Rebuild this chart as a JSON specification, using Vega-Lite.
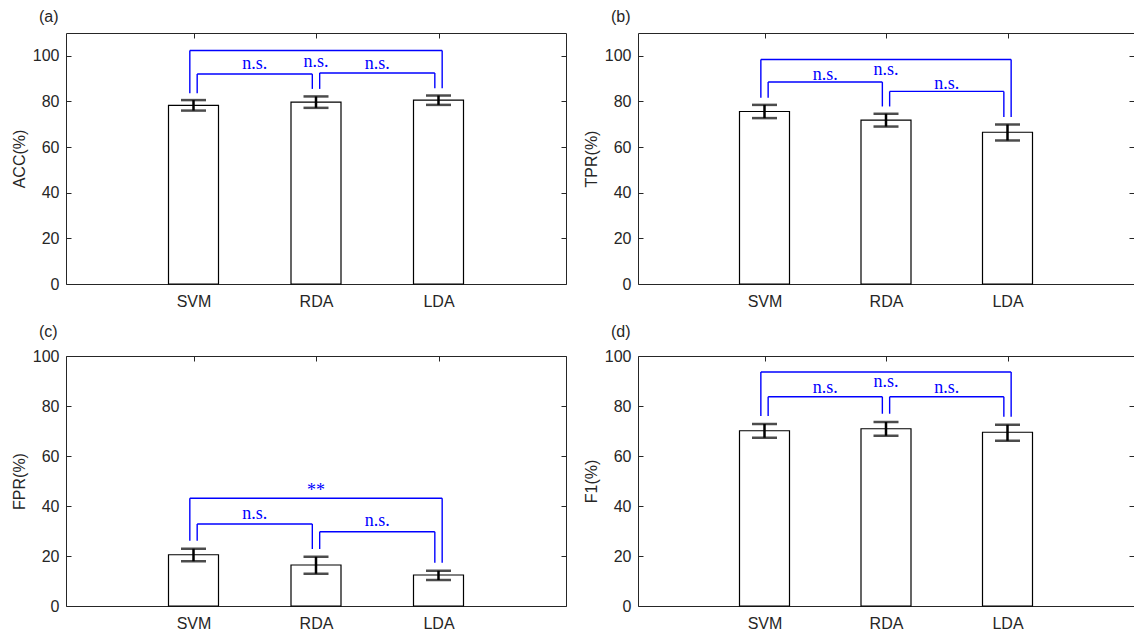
{
  "$schema": "https://vega.github.io/schema/vega-lite/v6.json",
  "padding": {"left": 10, "top": 8, "right": 0, "bottom": 0},
  "background": "white",
  "datasets": {
    "bars": [
      {"metric": "ACC", "method": "SVM", "pos": 1, "mean": 78.3, "lo": 76.0, "hi": 80.6},
      {"metric": "ACC", "method": "RDA", "pos": 2, "mean": 79.7, "lo": 77.2, "hi": 82.2},
      {"metric": "ACC", "method": "LDA", "pos": 3, "mean": 80.6, "lo": 78.5, "hi": 82.6},
      {"metric": "TPR", "method": "SVM", "pos": 1, "mean": 75.6, "lo": 72.7, "hi": 78.5},
      {"metric": "TPR", "method": "RDA", "pos": 2, "mean": 71.8, "lo": 69.0, "hi": 74.6},
      {"metric": "TPR", "method": "LDA", "pos": 3, "mean": 66.5, "lo": 62.9, "hi": 69.9},
      {"metric": "FPR", "method": "SVM", "pos": 1, "mean": 20.5, "lo": 17.9, "hi": 22.9},
      {"metric": "FPR", "method": "RDA", "pos": 2, "mean": 16.4, "lo": 12.9, "hi": 19.7},
      {"metric": "FPR", "method": "LDA", "pos": 3, "mean": 12.4, "lo": 10.4, "hi": 14.1},
      {"metric": "F1", "method": "SVM", "pos": 1, "mean": 70.1, "lo": 67.3, "hi": 72.8},
      {"metric": "F1", "method": "RDA", "pos": 2, "mean": 70.9, "lo": 68.1, "hi": 73.6},
      {"metric": "F1", "method": "LDA", "pos": 3, "mean": 69.5, "lo": 66.1, "hi": 72.5}
    ],
    "brackets": [
      {"metric": "ACC", "pair": "SVM-LDA", "xa": 0.97, "xb": 3.03, "ytop": 102.3, "yl": 83.6, "yr": 85.8, "label": "n.s.", "tx": 2, "ty": 97.5},
      {"metric": "ACC", "pair": "SVM-RDA", "xa": 1.03, "xb": 1.97, "ytop": 92.0, "yl": 83.6, "yr": 85.5, "label": "n.s.", "tx": 1.5, "ty": 96.2},
      {"metric": "ACC", "pair": "RDA-LDA", "xa": 2.03, "xb": 2.97, "ytop": 92.5, "yl": 85.5, "yr": 85.8, "label": "n.s.", "tx": 2.5, "ty": 96.5},
      {"metric": "TPR", "pair": "SVM-LDA", "xa": 0.97, "xb": 3.03, "ytop": 98.4, "yl": 81.6, "yr": 73.2, "label": "n.s.", "tx": 2, "ty": 94.0},
      {"metric": "TPR", "pair": "SVM-RDA", "xa": 1.03, "xb": 1.97, "ytop": 88.5, "yl": 81.6, "yr": 77.8, "label": "n.s.", "tx": 1.5, "ty": 91.8},
      {"metric": "TPR", "pair": "RDA-LDA", "xa": 2.03, "xb": 2.97, "ytop": 84.4, "yl": 77.8, "yr": 73.2, "label": "n.s.", "tx": 2.5, "ty": 87.7},
      {"metric": "FPR", "pair": "SVM-LDA", "xa": 0.97, "xb": 3.03, "ytop": 43.1, "yl": 26.1, "yr": 17.3, "label": "**", "tx": 2, "ty": 46.1},
      {"metric": "FPR", "pair": "SVM-RDA", "xa": 1.03, "xb": 1.97, "ytop": 32.8, "yl": 26.1, "yr": 22.8, "label": "n.s.", "tx": 1.5, "ty": 36.8},
      {"metric": "FPR", "pair": "RDA-LDA", "xa": 2.03, "xb": 2.97, "ytop": 29.7, "yl": 22.8, "yr": 17.3, "label": "n.s.", "tx": 2.5, "ty": 34.1},
      {"metric": "F1", "pair": "SVM-LDA", "xa": 0.97, "xb": 3.03, "ytop": 93.6, "yl": 76.0, "yr": 75.7, "label": "n.s.", "tx": 2, "ty": 89.5},
      {"metric": "F1", "pair": "SVM-RDA", "xa": 1.03, "xb": 1.97, "ytop": 83.7, "yl": 76.0, "yr": 76.9, "label": "n.s.", "tx": 1.5, "ty": 87.2},
      {"metric": "F1", "pair": "RDA-LDA", "xa": 2.03, "xb": 2.97, "ytop": 83.7, "yl": 76.9, "yr": 75.7, "label": "n.s.", "tx": 2.5, "ty": 87.2}
    ]
  },
  "config": {
    "view": {"stroke": "#262626", "strokeWidth": 1},
    "font": "Liberation Sans",
    "axis": {
      "labelFont": "Liberation Sans", "labelFontSize": 16, "labelColor": "#262626",
      "titleFont": "Liberation Sans", "titleFontSize": 16, "titleFontWeight": "normal", "titleColor": "#262626",
      "tickColor": "#262626", "tickSize": -5, "domain": false, "grid": false
    },
    "axisX": {"labelPadding": 14},
    "axisY": {"labelPadding": 12, "titlePadding": 5},
    "title": {"anchor": "start", "frame": "group", "font": "Liberation Sans", "fontSize": 16, "fontWeight": "normal", "color": "#262626", "dx": -27, "offset": 8}
  },
  "vconcat": [
    {
      "hconcat": [
        {
          "width": 500, "height": 251,
          "title": {"text": "(a)"},
          "resolve": {"axis": {"x": "independent", "y": "independent"}},
          "layer": [
            {
              "data": {"name": "bars"},
              "transform": [{"filter": "datum.metric === 'ACC'"}],
              "mark": {"type": "bar", "orient": "vertical", "width": 50, "fill": "white", "stroke": "black", "strokeWidth": 1.2},
              "encoding": {
                "x": {"field": "pos", "type": "quantitative", "scale": {"domain": [0, 4], "nice": false}, "axis": {"orient": "bottom", "values": [1, 2, 3], "labelExpr": "['','SVM','RDA','LDA'][datum.value]", "title": null}},
                "y": {"field": "mean", "type": "quantitative", "scale": {"domain": [0, 110], "nice": false}, "axis": {"orient": "left", "values": [0, 20, 40, 60, 80, 100], "title": "ACC(%)"}}
              }
            },
            {
              "data": {"name": "bars"},
              "transform": [{"filter": "datum.metric === 'ACC'"}],
              "mark": {"type": "point", "opacity": 0},
              "encoding": {
                "x": {"field": "pos", "type": "quantitative", "axis": {"orient": "top", "values": [1, 2, 3], "labels": false, "title": null}},
                "y": {"field": "mean", "type": "quantitative", "axis": {"orient": "right", "values": [0, 20, 40, 60, 80, 100], "labels": false, "title": null}}
              }
            },
            {
              "data": {"name": "bars"},
              "transform": [{"filter": "datum.metric === 'ACC'"}],
              "mark": {"type": "errorbar", "ticks": {"size": 25, "thickness": 2.5, "color": "black"}, "rule": {"strokeWidth": 2.5, "color": "black"}},
              "encoding": {
                "x": {"field": "pos", "type": "quantitative", "axis": null},
                "y": {"field": "lo", "type": "quantitative", "axis": null},
                "y2": {"field": "hi"}
              }
            },
            {
              "data": {"name": "brackets"},
              "transform": [{"filter": "datum.metric === 'ACC'"}],
              "mark": {"type": "rule", "color": "#0000ff", "strokeWidth": 1.4},
              "encoding": {
                "x": {"field": "xa", "type": "quantitative", "axis": null},
                "x2": {"field": "xb"},
                "y": {"field": "ytop", "type": "quantitative", "axis": null}
              }
            },
            {
              "data": {"name": "brackets"},
              "transform": [{"filter": "datum.metric === 'ACC'"}],
              "mark": {"type": "rule", "color": "#0000ff", "strokeWidth": 1.4},
              "encoding": {
                "x": {"field": "xa", "type": "quantitative", "axis": null},
                "y": {"field": "yl", "type": "quantitative", "axis": null},
                "y2": {"field": "ytop"}
              }
            },
            {
              "data": {"name": "brackets"},
              "transform": [{"filter": "datum.metric === 'ACC'"}],
              "mark": {"type": "rule", "color": "#0000ff", "strokeWidth": 1.4},
              "encoding": {
                "x": {"field": "xb", "type": "quantitative", "axis": null},
                "y": {"field": "yr", "type": "quantitative", "axis": null},
                "y2": {"field": "ytop"}
              }
            },
            {
              "data": {"name": "brackets"},
              "transform": [{"filter": "datum.metric === 'ACC'"}],
              "mark": {"type": "text", "font": "Liberation Serif", "fontSize": 18, "color": "#0000ff", "baseline": "middle", "align": "center"},
              "encoding": {
                "x": {"field": "tx", "type": "quantitative", "axis": null},
                "y": {"field": "ty", "type": "quantitative", "axis": null},
                "text": {"field": "label"}
              }
            }
          ]
        },
        {
          "width": 496, "height": 251,
          "title": {"text": "(b)"},
          "resolve": {"axis": {"x": "independent", "y": "independent"}},
          "layer": [
            {
              "data": {"name": "bars"},
              "transform": [{"filter": "datum.metric === 'TPR'"}],
              "mark": {"type": "bar", "orient": "vertical", "width": 50, "fill": "white", "stroke": "black", "strokeWidth": 1.2},
              "encoding": {
                "x": {"field": "pos", "type": "quantitative", "scale": {"domain": [0, 4], "nice": false}, "axis": {"orient": "bottom", "values": [1, 2, 3], "labelExpr": "['','SVM','RDA','LDA'][datum.value]", "title": null}},
                "y": {"field": "mean", "type": "quantitative", "scale": {"domain": [0, 110], "nice": false}, "axis": {"orient": "left", "values": [0, 20, 40, 60, 80, 100], "title": "TPR(%)"}}
              }
            },
            {
              "data": {"name": "bars"},
              "transform": [{"filter": "datum.metric === 'TPR'"}],
              "mark": {"type": "point", "opacity": 0},
              "encoding": {
                "x": {"field": "pos", "type": "quantitative", "axis": {"orient": "top", "values": [1, 2, 3], "labels": false, "title": null}},
                "y": {"field": "mean", "type": "quantitative", "axis": {"orient": "right", "values": [0, 20, 40, 60, 80, 100], "labels": false, "title": null}}
              }
            },
            {
              "data": {"name": "bars"},
              "transform": [{"filter": "datum.metric === 'TPR'"}],
              "mark": {"type": "errorbar", "ticks": {"size": 25, "thickness": 2.5, "color": "black"}, "rule": {"strokeWidth": 2.5, "color": "black"}},
              "encoding": {
                "x": {"field": "pos", "type": "quantitative", "axis": null},
                "y": {"field": "lo", "type": "quantitative", "axis": null},
                "y2": {"field": "hi"}
              }
            },
            {
              "data": {"name": "brackets"},
              "transform": [{"filter": "datum.metric === 'TPR'"}],
              "mark": {"type": "rule", "color": "#0000ff", "strokeWidth": 1.4},
              "encoding": {
                "x": {"field": "xa", "type": "quantitative", "axis": null},
                "x2": {"field": "xb"},
                "y": {"field": "ytop", "type": "quantitative", "axis": null}
              }
            },
            {
              "data": {"name": "brackets"},
              "transform": [{"filter": "datum.metric === 'TPR'"}],
              "mark": {"type": "rule", "color": "#0000ff", "strokeWidth": 1.4},
              "encoding": {
                "x": {"field": "xa", "type": "quantitative", "axis": null},
                "y": {"field": "yl", "type": "quantitative", "axis": null},
                "y2": {"field": "ytop"}
              }
            },
            {
              "data": {"name": "brackets"},
              "transform": [{"filter": "datum.metric === 'TPR'"}],
              "mark": {"type": "rule", "color": "#0000ff", "strokeWidth": 1.4},
              "encoding": {
                "x": {"field": "xb", "type": "quantitative", "axis": null},
                "y": {"field": "yr", "type": "quantitative", "axis": null},
                "y2": {"field": "ytop"}
              }
            },
            {
              "data": {"name": "brackets"},
              "transform": [{"filter": "datum.metric === 'TPR'"}],
              "mark": {"type": "text", "font": "Liberation Serif", "fontSize": 18, "color": "#0000ff", "baseline": "middle", "align": "center"},
              "encoding": {
                "x": {"field": "tx", "type": "quantitative", "axis": null},
                "y": {"field": "ty", "type": "quantitative", "axis": null},
                "text": {"field": "label"}
              }
            }
          ]
        }
      ],
      "spacing": 15
    },
    {
      "hconcat": [
        {
          "width": 500, "height": 250,
          "title": {"text": "(c)"},
          "resolve": {"axis": {"x": "independent", "y": "independent"}},
          "layer": [
            {
              "data": {"name": "bars"},
              "transform": [{"filter": "datum.metric === 'FPR'"}],
              "mark": {"type": "bar", "orient": "vertical", "width": 50, "fill": "white", "stroke": "black", "strokeWidth": 1.2},
              "encoding": {
                "x": {"field": "pos", "type": "quantitative", "scale": {"domain": [0, 4], "nice": false}, "axis": {"orient": "bottom", "values": [1, 2, 3], "labelExpr": "['','SVM','RDA','LDA'][datum.value]", "title": null}},
                "y": {"field": "mean", "type": "quantitative", "scale": {"domain": [0, 100], "nice": false}, "axis": {"orient": "left", "values": [0, 20, 40, 60, 80, 100], "title": "FPR(%)"}}
              }
            },
            {
              "data": {"name": "bars"},
              "transform": [{"filter": "datum.metric === 'FPR'"}],
              "mark": {"type": "point", "opacity": 0},
              "encoding": {
                "x": {"field": "pos", "type": "quantitative", "axis": {"orient": "top", "values": [1, 2, 3], "labels": false, "title": null}},
                "y": {"field": "mean", "type": "quantitative", "axis": {"orient": "right", "values": [0, 20, 40, 60, 80, 100], "labels": false, "title": null}}
              }
            },
            {
              "data": {"name": "bars"},
              "transform": [{"filter": "datum.metric === 'FPR'"}],
              "mark": {"type": "errorbar", "ticks": {"size": 25, "thickness": 2.5, "color": "black"}, "rule": {"strokeWidth": 2.5, "color": "black"}},
              "encoding": {
                "x": {"field": "pos", "type": "quantitative", "axis": null},
                "y": {"field": "lo", "type": "quantitative", "axis": null},
                "y2": {"field": "hi"}
              }
            },
            {
              "data": {"name": "brackets"},
              "transform": [{"filter": "datum.metric === 'FPR'"}],
              "mark": {"type": "rule", "color": "#0000ff", "strokeWidth": 1.4},
              "encoding": {
                "x": {"field": "xa", "type": "quantitative", "axis": null},
                "x2": {"field": "xb"},
                "y": {"field": "ytop", "type": "quantitative", "axis": null}
              }
            },
            {
              "data": {"name": "brackets"},
              "transform": [{"filter": "datum.metric === 'FPR'"}],
              "mark": {"type": "rule", "color": "#0000ff", "strokeWidth": 1.4},
              "encoding": {
                "x": {"field": "xa", "type": "quantitative", "axis": null},
                "y": {"field": "yl", "type": "quantitative", "axis": null},
                "y2": {"field": "ytop"}
              }
            },
            {
              "data": {"name": "brackets"},
              "transform": [{"filter": "datum.metric === 'FPR'"}],
              "mark": {"type": "rule", "color": "#0000ff", "strokeWidth": 1.4},
              "encoding": {
                "x": {"field": "xb", "type": "quantitative", "axis": null},
                "y": {"field": "yr", "type": "quantitative", "axis": null},
                "y2": {"field": "ytop"}
              }
            },
            {
              "data": {"name": "brackets"},
              "transform": [{"filter": "datum.metric === 'FPR'"}],
              "mark": {"type": "text", "font": "Liberation Serif", "fontSize": 18, "color": "#0000ff", "baseline": "middle", "align": "center"},
              "encoding": {
                "x": {"field": "tx", "type": "quantitative", "axis": null},
                "y": {"field": "ty", "type": "quantitative", "axis": null},
                "text": {"field": "label"}
              }
            }
          ]
        },
        {
          "width": 496, "height": 250,
          "title": {"text": "(d)"},
          "resolve": {"axis": {"x": "independent", "y": "independent"}},
          "layer": [
            {
              "data": {"name": "bars"},
              "transform": [{"filter": "datum.metric === 'F1'"}],
              "mark": {"type": "bar", "orient": "vertical", "width": 50, "fill": "white", "stroke": "black", "strokeWidth": 1.2},
              "encoding": {
                "x": {"field": "pos", "type": "quantitative", "scale": {"domain": [0, 4], "nice": false}, "axis": {"orient": "bottom", "values": [1, 2, 3], "labelExpr": "['','SVM','RDA','LDA'][datum.value]", "title": null}},
                "y": {"field": "mean", "type": "quantitative", "scale": {"domain": [0, 100], "nice": false}, "axis": {"orient": "left", "values": [0, 20, 40, 60, 80, 100], "title": "F1(%)"}}
              }
            },
            {
              "data": {"name": "bars"},
              "transform": [{"filter": "datum.metric === 'F1'"}],
              "mark": {"type": "point", "opacity": 0},
              "encoding": {
                "x": {"field": "pos", "type": "quantitative", "axis": {"orient": "top", "values": [1, 2, 3], "labels": false, "title": null}},
                "y": {"field": "mean", "type": "quantitative", "axis": {"orient": "right", "values": [0, 20, 40, 60, 80, 100], "labels": false, "title": null}}
              }
            },
            {
              "data": {"name": "bars"},
              "transform": [{"filter": "datum.metric === 'F1'"}],
              "mark": {"type": "errorbar", "ticks": {"size": 25, "thickness": 2.5, "color": "black"}, "rule": {"strokeWidth": 2.5, "color": "black"}},
              "encoding": {
                "x": {"field": "pos", "type": "quantitative", "axis": null},
                "y": {"field": "lo", "type": "quantitative", "axis": null},
                "y2": {"field": "hi"}
              }
            },
            {
              "data": {"name": "brackets"},
              "transform": [{"filter": "datum.metric === 'F1'"}],
              "mark": {"type": "rule", "color": "#0000ff", "strokeWidth": 1.4},
              "encoding": {
                "x": {"field": "xa", "type": "quantitative", "axis": null},
                "x2": {"field": "xb"},
                "y": {"field": "ytop", "type": "quantitative", "axis": null}
              }
            },
            {
              "data": {"name": "brackets"},
              "transform": [{"filter": "datum.metric === 'F1'"}],
              "mark": {"type": "rule", "color": "#0000ff", "strokeWidth": 1.4},
              "encoding": {
                "x": {"field": "xa", "type": "quantitative", "axis": null},
                "y": {"field": "yl", "type": "quantitative", "axis": null},
                "y2": {"field": "ytop"}
              }
            },
            {
              "data": {"name": "brackets"},
              "transform": [{"filter": "datum.metric === 'F1'"}],
              "mark": {"type": "rule", "color": "#0000ff", "strokeWidth": 1.4},
              "encoding": {
                "x": {"field": "xb", "type": "quantitative", "axis": null},
                "y": {"field": "yr", "type": "quantitative", "axis": null},
                "y2": {"field": "ytop"}
              }
            },
            {
              "data": {"name": "brackets"},
              "transform": [{"filter": "datum.metric === 'F1'"}],
              "mark": {"type": "text", "font": "Liberation Serif", "fontSize": 18, "color": "#0000ff", "baseline": "middle", "align": "center"},
              "encoding": {
                "x": {"field": "tx", "type": "quantitative", "axis": null},
                "y": {"field": "ty", "type": "quantitative", "axis": null},
                "text": {"field": "label"}
              }
            }
          ]
        }
      ],
      "spacing": 15
    }
  ],
  "spacing": 13
}
